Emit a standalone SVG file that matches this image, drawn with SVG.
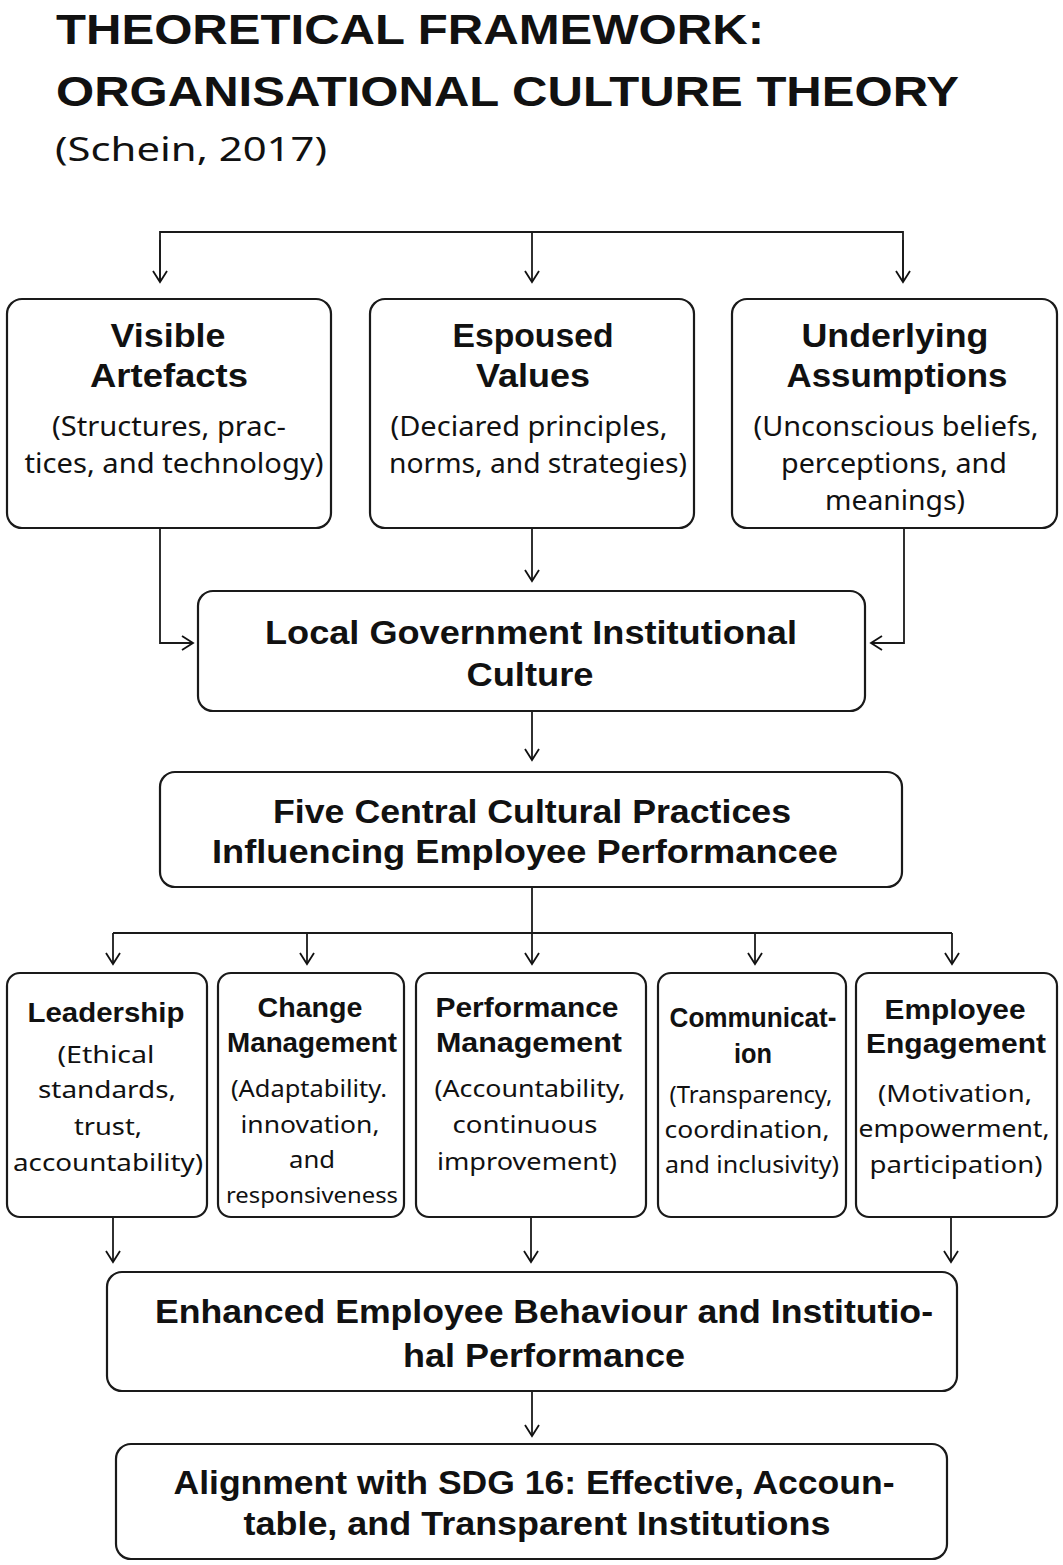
<svg xmlns="http://www.w3.org/2000/svg" width="1063" height="1565" viewBox="0 0 1063 1565">
<defs>
<marker id="arr" markerUnits="userSpaceOnUse" markerWidth="20" markerHeight="20" viewBox="-12 -10 14 20" refX="0" refY="0" orient="auto">
<path d="M-11,-7 L0,0 L-11,7" fill="none" stroke="#111" stroke-width="1.8"/>
</marker>
<style>
.box{fill:#fff;stroke:#1a1a1a;stroke-width:2.2}
.ln{fill:none;stroke:#1a1a1a;stroke-width:1.8}
.t{font-family:"Noto Sans","Liberation Sans",sans-serif;fill:#111;text-anchor:middle}
.h{font-family:"Liberation Sans","Noto Sans",sans-serif;font-weight:700}
.ttl{font-family:"Liberation Sans","Noto Sans",sans-serif;fill:#111;font-weight:700;font-size:42px}
</style>
</defs>
<rect width="1063" height="1565" fill="#fff"/>
<g id="title">
<text class="ttl" x="56" y="44" textLength="708" lengthAdjust="spacingAndGlyphs">THEORETICAL FRAMEWORK:</text>
<text class="ttl" x="56" y="106" textLength="903" lengthAdjust="spacingAndGlyphs">ORGANISATIONAL CULTURE THEORY</text>
<text x="55" y="161" font-family="Noto Sans, Liberation Sans, sans-serif" font-size="32" fill="#111" textLength="272" lengthAdjust="spacingAndGlyphs">(Schein, 2017)</text>
</g>
<g id="connectors">
<path class="ln" d="M160,282 V232 H903 V282" />
<path class="ln" d="M160,240 V282" marker-end="url(#arr)"/>
<path class="ln" d="M532,232 V282" marker-end="url(#arr)"/>
<path class="ln" d="M903,240 V282" marker-end="url(#arr)"/>
<path class="ln" d="M160,528 V643 H193" marker-end="url(#arr)"/>
<path class="ln" d="M532,528 V581" marker-end="url(#arr)"/>
<path class="ln" d="M904,528 V643 H871" marker-end="url(#arr)"/>
<path class="ln" d="M532,711 V760" marker-end="url(#arr)"/>
<path class="ln" d="M532,887 V933 M113,933 H952" />
<path class="ln" d="M113,933 V964" marker-end="url(#arr)"/>
<path class="ln" d="M307,933 V964" marker-end="url(#arr)"/>
<path class="ln" d="M532,933 V964" marker-end="url(#arr)"/>
<path class="ln" d="M755,933 V964" marker-end="url(#arr)"/>
<path class="ln" d="M952,933 V964" marker-end="url(#arr)"/>
<path class="ln" d="M113,1217 V1262" marker-end="url(#arr)"/>
<path class="ln" d="M531,1217 V1262" marker-end="url(#arr)"/>
<path class="ln" d="M951,1217 V1262" marker-end="url(#arr)"/>
<path class="ln" d="M532,1391 V1436" marker-end="url(#arr)"/>
</g>
<g id="visible-artefacts">
<rect class="box" x="7" y="299" width="324" height="229" rx="15"/>
<text class="t h" x="168" y="347" font-size="34" textLength="115" lengthAdjust="spacingAndGlyphs">Visible</text>
<text class="t h" x="169" y="387" font-size="34" textLength="158" lengthAdjust="spacingAndGlyphs">Artefacts</text>
<text class="t" x="169" y="436" font-size="27" textLength="234" lengthAdjust="spacingAndGlyphs">(Structures, prac-</text>
<text class="t" x="174" y="473" font-size="27" textLength="299" lengthAdjust="spacingAndGlyphs">tices, and technology)</text>
</g>
<g id="espoused-values">
<rect class="box" x="370" y="299" width="324" height="229" rx="15"/>
<text class="t h" x="533" y="347" font-size="34" textLength="161" lengthAdjust="spacingAndGlyphs">Espoused</text>
<text class="t h" x="533" y="387" font-size="34" textLength="114" lengthAdjust="spacingAndGlyphs">Values</text>
<text class="t" x="529" y="436" font-size="27" textLength="277" lengthAdjust="spacingAndGlyphs">(Deciared principles,</text>
<text class="t" x="538" y="473" font-size="27" textLength="298" lengthAdjust="spacingAndGlyphs">norms, and strategies)</text>
</g>
<g id="underlying-assumptions">
<rect class="box" x="732" y="299" width="325" height="229" rx="15"/>
<text class="t h" x="895" y="347" font-size="34" textLength="187" lengthAdjust="spacingAndGlyphs">Underlying</text>
<text class="t h" x="897" y="387" font-size="34" textLength="221" lengthAdjust="spacingAndGlyphs">Assumptions</text>
<text class="t" x="896" y="436" font-size="27" textLength="285" lengthAdjust="spacingAndGlyphs">(Unconscious beliefs,</text>
<text class="t" x="894" y="473" font-size="27" textLength="226" lengthAdjust="spacingAndGlyphs">perceptions, and</text>
<text class="t" x="895" y="510" font-size="27" textLength="140" lengthAdjust="spacingAndGlyphs">meanings)</text>
</g>
<g id="local-government-culture">
<rect class="box" x="198" y="591" width="667" height="120" rx="15"/>
<text class="t h" x="531" y="644" font-size="33" textLength="532" lengthAdjust="spacingAndGlyphs">Local Government Institutional</text>
<text class="t h" x="530" y="686" font-size="33" textLength="127" lengthAdjust="spacingAndGlyphs">Culture</text>
</g>
<g id="five-central-practices">
<rect class="box" x="160" y="772" width="742" height="115" rx="15"/>
<text class="t h" x="532" y="823" font-size="33" textLength="518" lengthAdjust="spacingAndGlyphs">Five Central Cultural Practices</text>
<text class="t h" x="525" y="863" font-size="33" textLength="626" lengthAdjust="spacingAndGlyphs">Influencing Employee Performancee</text>
</g>
<g id="leadership">
<rect class="box" x="7" y="973" width="200" height="244" rx="13"/>
<text class="t h" x="106" y="1022" font-size="28" textLength="157" lengthAdjust="spacingAndGlyphs">Leadership</text>
<text class="t" x="106" y="1063" font-size="24" textLength="97" lengthAdjust="spacingAndGlyphs">(Ethical</text>
<text class="t" x="107" y="1098" font-size="24" textLength="138" lengthAdjust="spacingAndGlyphs">standards,</text>
<text class="t" x="108" y="1135" font-size="24" textLength="68" lengthAdjust="spacingAndGlyphs">trust,</text>
<text class="t" x="108" y="1171" font-size="24" textLength="190" lengthAdjust="spacingAndGlyphs">accountability)</text>
</g>
<g id="change-management">
<rect class="box" x="218" y="973" width="186" height="244" rx="13"/>
<text class="t h" x="310" y="1017" font-size="28" textLength="105" lengthAdjust="spacingAndGlyphs">Change</text>
<text class="t h" x="312" y="1052" font-size="28" textLength="170" lengthAdjust="spacingAndGlyphs">Management</text>
<text class="t" x="309" y="1097" font-size="24" textLength="156" lengthAdjust="spacingAndGlyphs">(Adaptability.</text>
<text class="t" x="310" y="1133" font-size="24" textLength="139" lengthAdjust="spacingAndGlyphs">innovation,</text>
<text class="t" x="312" y="1168" font-size="24" textLength="46" lengthAdjust="spacingAndGlyphs">and</text>
<text class="t" x="312" y="1203" font-size="22" textLength="172" lengthAdjust="spacingAndGlyphs">responsiveness</text>
</g>
<g id="performance-management">
<rect class="box" x="416" y="973" width="230" height="244" rx="13"/>
<text class="t h" x="527" y="1017" font-size="28" textLength="183" lengthAdjust="spacingAndGlyphs">Performance</text>
<text class="t h" x="529" y="1052" font-size="28" textLength="186" lengthAdjust="spacingAndGlyphs">Management</text>
<text class="t" x="530" y="1097" font-size="24" textLength="191" lengthAdjust="spacingAndGlyphs">(Accountability,</text>
<text class="t" x="525" y="1133" font-size="24" textLength="145" lengthAdjust="spacingAndGlyphs">continuous</text>
<text class="t" x="527" y="1170" font-size="24" textLength="180" lengthAdjust="spacingAndGlyphs">improvement)</text>
</g>
<g id="communication">
<rect class="box" x="658" y="973" width="188" height="244" rx="13"/>
<text class="t h" x="753" y="1027" font-size="28" textLength="167" lengthAdjust="spacingAndGlyphs">Communicat-</text>
<text class="t h" x="753" y="1063" font-size="28" textLength="38" lengthAdjust="spacingAndGlyphs">ion</text>
<text class="t" x="751" y="1103" font-size="24" textLength="163" lengthAdjust="spacingAndGlyphs">(Transparency,</text>
<text class="t" x="747" y="1138" font-size="24" textLength="165" lengthAdjust="spacingAndGlyphs">coordination,</text>
<text class="t" x="752" y="1173" font-size="24" textLength="174" lengthAdjust="spacingAndGlyphs">and inclusivity)</text>
</g>
<g id="employee-engagement">
<rect class="box" x="856" y="973" width="201" height="244" rx="13"/>
<text class="t h" x="955" y="1019" font-size="28" textLength="141" lengthAdjust="spacingAndGlyphs">Employee</text>
<text class="t h" x="956" y="1053" font-size="28" textLength="180" lengthAdjust="spacingAndGlyphs">Engagement</text>
<text class="t" x="955" y="1102" font-size="24" textLength="154" lengthAdjust="spacingAndGlyphs">(Motivation,</text>
<text class="t" x="954" y="1137" font-size="24" textLength="191" lengthAdjust="spacingAndGlyphs">empowerment,</text>
<text class="t" x="956" y="1173" font-size="24" textLength="173" lengthAdjust="spacingAndGlyphs">participation)</text>
</g>
<g id="enhanced-performance">
<rect class="box" x="107" y="1272" width="850" height="119" rx="15"/>
<text class="t h" x="544" y="1323" font-size="33" textLength="778" lengthAdjust="spacingAndGlyphs">Enhanced Employee Behaviour and Institutio-</text>
<text class="t h" x="544" y="1367" font-size="33" textLength="282" lengthAdjust="spacingAndGlyphs">hal Performance</text>
</g>
<g id="sdg16-alignment">
<rect class="box" x="116" y="1444" width="831" height="115" rx="15"/>
<text class="t h" x="534" y="1494" font-size="33" textLength="721" lengthAdjust="spacingAndGlyphs">Alignment with SDG 16: Effective, Accoun-</text>
<text class="t h" x="537" y="1535" font-size="33" textLength="587" lengthAdjust="spacingAndGlyphs">table, and Transparent Institutions</text>
</g>
</svg>
